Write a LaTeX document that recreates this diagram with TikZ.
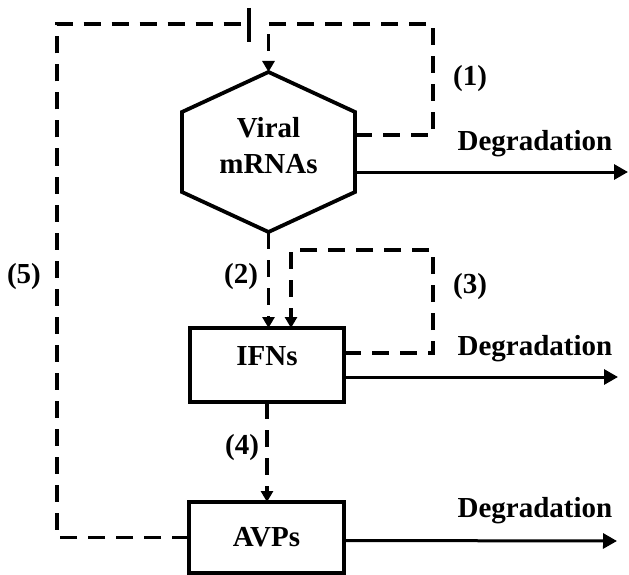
\documentclass[tikz,border=0pt]{standalone}
\usepackage{fontspec}
\setmainfont{Liberation Serif}
\usetikzlibrary{arrows.meta,calc}

\tikzset{
  boxline/.style={line width=3.8pt, line join=miter},
  statebox/.style={draw, boxline, rectangle, inner sep=0pt, outer sep=0pt,
    font=\fontsize{29}{34}\selectfont\bfseries},
  txt/.style={inner sep=0pt, outer sep=0pt, font=\fontsize{29}{34}\selectfont\bfseries},
  dashlink/.style={line width=3.8pt, dash pattern=on 17pt off 11pt},
  smalltip/.style={-{Triangle[width=12pt,length=11pt]}},
  degrade/.style={line width=3pt, -{Triangle[width=15pt,length=14pt]}},
}

\begin{document}
\begin{tikzpicture}[x=1pt, y=-1pt]
\useasboundingbox (0,0) rectangle (629,575);

% viral mRNA hexagon: an invisible frame holds the anchors
\node[inner sep=0pt, outer sep=0pt, minimum width=173pt, minimum height=160pt] (hex) at (268.5,152) {};
\draw[boxline] (hex.north) -- ($(hex.north east)+(0,40)$) -- ($(hex.south east)+(0,-40)$)
  -- (hex.south) -- ($(hex.south west)+(0,-40)$) -- ($(hex.north west)+(0,40)$) -- cycle;
\node[txt, anchor=base] (viral) at (268.5,138) {Viral};
\node[txt, anchor=base] (mrna) at (268.5,173) {mRNAs};

% interferons and antiviral proteins
\node[statebox, minimum width=154pt, minimum height=74pt, text height=19pt, text depth=18pt] (ifn) at (267,365) {IFNs};
\node[statebox, minimum width=155pt, minimum height=71pt] (avp) at (266.5,537.5) {AVPs};

% degradation outputs
\draw[degrade] ($(hex.east)+(0,20)$) -- (628,172) coordinate (deg1);
\draw[degrade] ($(ifn.east)+(0,12)$) -- (618,377) coordinate (deg2);
\draw[degrade] ($(avp.east)+(0,3)$) -- (617,541) coordinate (deg3);
\node[txt, anchor=base] (d1) at (535,150) {Degradation};
\node[txt, anchor=base] (d2) at (535,355) {Degradation};
\node[txt, anchor=base] (d3) at (535,517) {Degradation};

% (1) self-amplification of viral mRNA
\draw[dashlink, smalltip] ($(hex.east)+(0,-17)$) -- (433,135) -- (433,24) -- (268.5,24) -- (hex.north);

% (2) mRNA induces IFNs
\draw[dashlink, smalltip] (hex.south) -- (hex.south |- ifn.north);

% (3) IFN positive feedback
\draw[dashlink, smalltip] ($(ifn.east)+(0,-12)$) -- (433,353) -- (433,250) -- (291,250) -- (291,328);

% (4) IFNs induce AVPs
\draw[dashlink, smalltip] (ifn.south) -- (ifn.south |- avp.north);

% (5) AVPs inhibit viral replication
\coordinate (inhib) at (249,24);
\draw[dashlink] (avp.west) -- (57,537.5) -- (57,24) -- (inhib);
\draw[boxline] ($(inhib)+(0,-16)$) -- ($(inhib)+(0,18)$);

% step labels
\node[txt] (l1) at (470,79) {(1)};
\node[txt] (l2) at (241,277) {(2)};
\node[txt] (l3) at (470,287) {(3)};
\node[txt] (l4) at (242,448) {(4)};
\node[txt] (l5) at (24,277) {(5)};
\end{tikzpicture}
\end{document}
